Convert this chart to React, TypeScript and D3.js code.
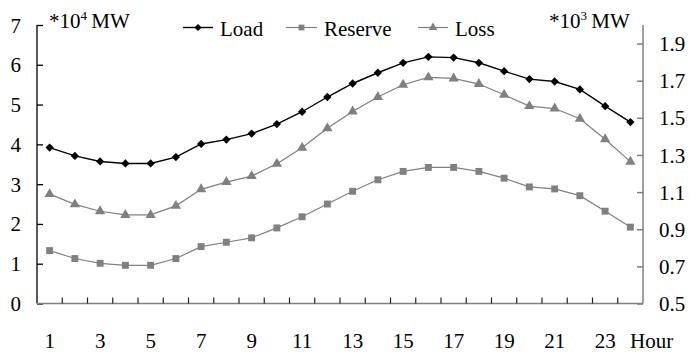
import { useEffect, useRef } from "react";
import * as d3 from "d3";

// hours 1..24
const hours = d3.range(1, 25);

// *10^4 MW (left axis)
const loadValues = [
  3.92, 3.71, 3.57, 3.52, 3.52, 3.68, 4.01, 4.12, 4.27, 4.51, 4.82, 5.19,
  5.53, 5.8, 6.05, 6.2, 6.18, 6.05, 5.84, 5.64, 5.58, 5.38, 4.96, 4.56,
];
const reserveValues = [
  1.33, 1.13, 1.01, 0.96, 0.96, 1.13, 1.43, 1.54, 1.65, 1.9, 2.18, 2.5,
  2.82, 3.11, 3.32, 3.42, 3.42, 3.32, 3.15, 2.93, 2.88, 2.71, 2.32, 1.92,
];
// *10^3 MW (right axis)
const lossValues = [
  1.089, 1.034, 0.997, 0.977, 0.977, 1.026, 1.115, 1.154, 1.186, 1.253, 1.339, 1.444,
  1.534, 1.612, 1.678, 1.718, 1.712, 1.682, 1.624, 1.563, 1.55, 1.495, 1.385, 1.264,
];

const leftTicks = [0, 1, 2, 3, 4, 5, 6, 7];
const rightTicks = [0.5, 0.7, 0.9, 1.1, 1.3, 1.5, 1.7, 1.9];
const xLabels = hours.filter((h) => h % 2 === 1);

const FONT = "'Liberation Serif', 'Times New Roman', serif";
const GRAY = "#808080";

export default function App() {
  const svgRef = useRef<SVGSVGElement>(null);

  useEffect(() => {
    if (!svgRef.current) return;
    const svg = d3.select(svgRef.current);
    svg.selectAll("*").remove();

    const left = 37;
    const right = 643;
    const top = 25;
    const bottom = 303.5;

    const x = d3.scaleBand<number>().domain(hours).range([left, right]);
    const cx = (h: number) => (x(h) ?? 0) + x.bandwidth() / 2;
    const yL = d3.scaleLinear().domain([0, 7]).range([bottom, top]);
    const yR = d3.scaleLinear().domain([0.5, 2.0]).range([bottom, top]);

    // 左軸
    const gl = svg.append("g").attr("transform", `translate(${left},0)`);
    gl.call(d3.axisRight(yL).tickValues(leftTicks).tickSize(6).tickFormat(() => ""))
      .call((g) => g.selectAll("line, path").attr("stroke", "#000").attr("stroke-width", 1.3));
    gl.select(".domain").attr("d", `M0,${bottom}V${top}`);
    gl.selectAll(".tick text").remove();
    leftTicks.forEach((t) => {
      svg.append("text")
        .attr("x", 21)
        .attr("y", yL(t))
        .attr("dy", "0.36em")
        .attr("text-anchor", "end")
        .attr("font-family", FONT)
        .attr("font-size", 21)
        .text(String(t));
    });

    // 右軸
    const gr = svg.append("g").attr("transform", `translate(${right},0)`);
    gr.call(d3.axisLeft(yR).tickValues(rightTicks).tickSize(6).tickFormat(() => ""))
      .call((g) => g.selectAll("line, path").attr("stroke", GRAY).attr("stroke-width", 1.5));
    gr.select(".domain").attr("d", `M0,${bottom}V${top}`);
    rightTicks.forEach((t) => {
      svg.append("text")
        .attr("x", 659)
        .attr("y", yR(t))
        .attr("dy", "0.36em")
        .attr("font-family", FONT)
        .attr("font-size", 21)
        .text(t.toFixed(1));
    });

    // X軸
    svg.append("line")
      .attr("x1", left)
      .attr("x2", right)
      .attr("y1", bottom)
      .attr("y2", bottom)
      .attr("stroke", GRAY)
      .attr("stroke-width", 1.5);
    hours.slice(1).forEach((h) => {
      const xx = x(h) ?? 0;
      svg.append("line")
        .attr("x1", xx)
        .attr("x2", xx)
        .attr("y1", bottom)
        .attr("y2", bottom - 6)
        .attr("stroke", "#222")
        .attr("stroke-width", 1.2);
    });
    xLabels.forEach((h) => {
      svg.append("text")
        .attr("x", cx(h))
        .attr("y", 348)
        .attr("text-anchor", "middle")
        .attr("font-family", FONT)
        .attr("font-size", 21)
        .text(String(h));
    });
    svg.append("text")
      .attr("x", 630)
      .attr("y", 348)
      .attr("font-family", FONT)
      .attr("font-size", 21)
      .text("Hour");

    // 単位
    const unit = (xx: number, exp: string) => {
      const t = svg.append("text")
        .attr("x", xx)
        .attr("y", 28)
        .attr("font-family", FONT)
        .attr("font-size", 21);
      t.append("tspan").text("*10");
      t.append("tspan").attr("dy", -8).attr("font-size", 13).text(exp);
      t.append("tspan").attr("dy", 8).text("\u2009MW");
    };
    unit(49, "4");
    unit(549, "3");

    // 系列
    const series = [
      { name: "Load", values: loadValues, y: yL, color: "#000", symbol: d3.symbolDiamond2, size: 44, width: 1.4 },
      { name: "Reserve", values: reserveValues, y: yL, color: GRAY, symbol: d3.symbolSquare, size: 48, width: 1.2 },
      { name: "Loss", values: lossValues, y: yR, color: GRAY, symbol: d3.symbolTriangle, size: 46, width: 1.2 },
    ];

    series.forEach((s) => {
      const line = d3.line<number>().x((_, i) => cx(hours[i])).y((d) => s.y(d));
      svg.append("path")
        .attr("d", line(s.values))
        .attr("fill", "none")
        .attr("stroke", s.color)
        .attr("stroke-width", s.width);
      const sym = d3.symbol().type(s.symbol).size(s.size)();
      svg.selectAll(null)
        .data(s.values)
        .enter()
        .append("path")
        .attr("d", sym)
        .attr("transform", (d, i) => `translate(${cx(hours[i])},${s.y(d)})`)
        .attr("fill", s.color);
    });

    // 凡例
    const legendPos = [
      { x1: 183, x2: 213, tx: 220 },
      { x1: 286, x2: 317, tx: 324 },
      { x1: 418, x2: 448, tx: 455 },
    ];
    series.forEach((s, i) => {
      const p = legendPos[i];
      svg.append("line")
        .attr("x1", p.x1)
        .attr("x2", p.x2)
        .attr("y1", 27.5)
        .attr("y2", 27.5)
        .attr("stroke", s.color)
        .attr("stroke-width", s.width);
      svg.append("path")
        .attr("d", d3.symbol().type(s.symbol).size(s.size * 0.7)()!)
        .attr("transform", `translate(${(p.x1 + p.x2) / 2},27.5)`)
        .attr("fill", s.color);
      svg.append("text")
        .attr("x", p.tx)
        .attr("y", 36)
        .attr("font-family", FONT)
        .attr("font-size", 21)
        .text(s.name);
    });
  }, []);

  return (
    <svg
      ref={svgRef}
      width={691}
      height={353}
      style={{ position: "absolute", left: 0, top: 0, background: "#fff" }}
    />
  );
}
